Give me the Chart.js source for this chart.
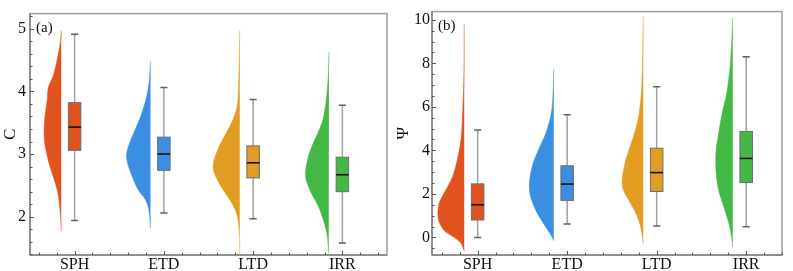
<!DOCTYPE html>
<html>
<head>
<meta charset="utf-8">
<script src="https://cdn.jsdelivr.net/npm/chart.js@4.4.0/dist/chart.umd.min.js"></script>
<style>
html, body { margin: 0; padding: 0; background: #fff; }
#wrap { position: relative; width: 793px; height: 271px; }
#wrap canvas { position: absolute; top: 0; }
</style>
</head>
<body>
<div id="wrap">
    <canvas id="chartC" width="393" height="271" style="left:0"></canvas>
    <canvas id="chartPsi" width="400" height="271" style="left:393px"></canvas>
</div>
<script>
const categories = ['SPH', 'ETD', 'LTD', 'IRR'];
const colors = ['#E0531F', '#3B8FE3', '#E29C22', '#44B845'];

// panel (a) - C
const cMin = [1.94, 2.06, 1.97, 1.58];
const cQ1 = [3.06, 2.74, 2.62, 2.40];
const cMedian = [3.43, 3.00, 2.86, 2.67];
const cQ3 = [3.82, 3.27, 3.13, 2.95];
const cMax = [4.91, 4.06, 3.87, 3.78];
const cTicks = [2, 3, 4, 5];

// violin outline: value levels and density at each level
const cViolinValues = [
    [4.97, 4.77, 4.51, 4.25, 4.06, 3.86, 3.64, 3.45, 3.25, 3.04, 2.84, 2.64, 2.43, 2.23, 1.97, 1.77],
    [4.47, 4.16, 3.95, 3.75, 3.55, 3.34, 3.14, 2.99, 2.84, 2.64, 2.43, 2.27, 2.12, 1.82],
    [4.97, 4.51, 4.01, 3.75, 3.55, 3.34, 3.14, 2.94, 2.79, 2.64, 2.43, 2.23, 2.03, 1.73, 1.42],
    [4.63, 4.25, 3.86, 3.55, 3.34, 3.14, 2.94, 2.73, 2.58, 2.38, 2.18, 1.97, 1.73, 1.42]
];
const cViolinDensity = [
    [0, 0.1, 0.4, 0.8, 1.3, 1.4, 1.6, 1.7, 1.7, 1.5, 1.2, 0.8, 0.4, 0.2, 0.05, 0],
    [0, 0.13, 0.33, 0.67, 1.1, 1.67, 2.17, 2.4, 2.27, 1.83, 1.23, 0.5, 0.17, 0],
    [0, 0.05, 0.13, 0.27, 0.67, 1.33, 2.0, 2.5, 2.67, 2.4, 1.67, 0.83, 0.27, 0.03, 0],
    [0, 0.07, 0.27, 0.6, 1.1, 1.67, 2.1, 2.33, 2.27, 1.77, 1.1, 0.6, 0.2, 0.03]
];

// panel (b) - Psi
const psiMin = [0.00, 0.61, 0.52, 0.49];
const psiQ1 = [0.80, 1.70, 2.11, 2.52];
const psiMedian = [1.50, 2.45, 2.98, 3.63];
const psiQ3 = [2.46, 3.29, 4.10, 4.87];
const psiMax = [4.94, 5.64, 6.92, 8.31];
const psiTicks = [0, 2, 4, 6, 8, 10];

const psiViolinValues = [
    [9.81, 7.51, 6.05, 4.59, 3.70, 2.82, 2.20, 1.62, 1.18, 0.74, 0.30, -0.01, -0.28, -0.63],
    [7.73, 6.63, 5.74, 4.86, 4.15, 3.39, 2.64, 2.07, 1.62, 1.05, 0.43, 0.16, -0.15],
    [10.16, 8.26, 6.80, 5.61, 4.86, 4.15, 3.39, 2.64, 2.20, 1.62, 1.05, 0.43, -0.28],
    [10.12, 9.01, 7.82, 6.63, 5.61, 4.72, 3.97, 3.08, 2.20, 1.32, 0.61, -0.01, -0.45]
];
const psiViolinDensity = [
    [0, 0.03, 0.13, 0.3, 0.63, 1.13, 1.8, 2.47, 2.63, 2.53, 1.97, 0.97, 0.3, 0],
    [0, 0.07, 0.23, 0.73, 1.4, 2.07, 2.4, 2.4, 2.13, 1.57, 0.73, 0.33, 0],
    [0, 0.07, 0.17, 0.43, 0.83, 1.33, 1.83, 2.1, 2.0, 1.33, 0.67, 0.23, 0],
    [0, 0.1, 0.27, 0.6, 1.1, 1.43, 1.67, 1.67, 1.43, 0.83, 0.37, 0.1, 0]
];

const SERIF = '"Liberation Serif", "DejaVu Serif", serif';
const VIOLIN_EDGE = -0.15;   // flat side of each half violin, in category units
const VIOLIN_SCALE = 0.112;  // density -> category units
const BOX_HALF = 0.07;
const CAP_HALF = 0.04;

function violinDatasets(values, density) {
    return categories.map((cat, i) => ({
        label: cat,
        data: values[i].map((v, k) => ({ x: i + VIOLIN_EDGE - density[i][k] * VIOLIN_SCALE, y: v })),
        showLine: true,
        fill: 'shape',
        backgroundColor: colors[i],
        borderColor: colors[i] + 'b0',
        borderWidth: 0.8,
        pointRadius: 0,
        tension: 0.3
    }));
}

// boxes, inward ticks, frame and panel letter
const raincloudPlugin = {
    id: 'raincloud',
    afterDatasetsDraw(chart, args, opts) {
        const ctx = chart.ctx;
        const x = chart.scales.x;
        const y = chart.scales.y;
        const b = opts.boxes;
        ctx.save();
        categories.forEach((cat, i) => {
            const cx = x.getPixelForValue(i);
            const hw = x.getPixelForValue(i + BOX_HALF) - cx;
            const cw = x.getPixelForValue(i + CAP_HALF) - cx;
            const pMin = y.getPixelForValue(b.min[i]);
            const pMax = y.getPixelForValue(b.max[i]);
            const pQ1 = y.getPixelForValue(b.q1[i]);
            const pQ3 = y.getPixelForValue(b.q3[i]);
            const pMed = y.getPixelForValue(b.median[i]);

            ctx.strokeStyle = '#a0a0a0';
            ctx.lineWidth = 1.5;
            ctx.beginPath();
            ctx.moveTo(cx, pMin);
            ctx.lineTo(cx, pMax);
            ctx.stroke();

            ctx.strokeStyle = '#606060';
            ctx.beginPath();
            ctx.moveTo(cx - cw, pMin);
            ctx.lineTo(cx + cw, pMin);
            ctx.moveTo(cx - cw, pMax);
            ctx.lineTo(cx + cw, pMax);
            ctx.stroke();

            ctx.fillStyle = colors[i];
            ctx.fillRect(cx - hw, pQ3, hw * 2, pQ1 - pQ3);
            ctx.strokeStyle = '#6e6e6e';
            ctx.lineWidth = 1;
            ctx.strokeRect(cx - hw, pQ3, hw * 2, pQ1 - pQ3);

            ctx.strokeStyle = '#111';
            ctx.lineWidth = 1.6;
            ctx.beginPath();
            ctx.moveTo(cx - hw, pMed);
            ctx.lineTo(cx + hw, pMed);
            ctx.stroke();
        });
        ctx.restore();
    },
    afterDraw(chart, args, opts) {
        const ctx = chart.ctx;
        const a = chart.chartArea;
        const x = chart.scales.x;
        const y = chart.scales.y;
        ctx.save();

        // frame
        ctx.strokeStyle = '#a3a3a3';
        ctx.lineWidth = 1.6;
        ctx.strokeRect(a.left, a.top, a.right - a.left, a.bottom - a.top);
        ctx.strokeStyle = '#6a6a6a';
        ctx.lineWidth = 1;
        ctx.beginPath();
        ctx.moveTo(a.left, a.top);
        ctx.lineTo(a.left, a.bottom);
        ctx.lineTo(a.right, a.bottom);
        ctx.stroke();

        // inward ticks
        ctx.strokeStyle = '#555';
        ctx.lineWidth = 1;
        ctx.beginPath();
        const ys = opts.yMinor;
        for (let v = Math.ceil(y.min / ys) * ys; v <= y.max + 1e-9; v += ys) {
            const p = Math.round(y.getPixelForValue(v)) + 0.5;
            const major = Math.abs(v / opts.yMajor - Math.round(v / opts.yMajor)) < 1e-6;
            ctx.moveTo(a.left, p);
            ctx.lineTo(a.left + (major ? 4 : 2.5), p);
        }
        const xs = 0.2;
        for (let v = Math.ceil(x.min / xs) * xs; v <= x.max + 1e-9; v += xs) {
            const p = Math.round(x.getPixelForValue(v)) + 0.5;
            const major = Math.abs(v - Math.round(v)) < 1e-6;
            ctx.moveTo(p, a.bottom);
            ctx.lineTo(p, a.bottom - (major ? 4 : 2.5));
        }
        ctx.stroke();

        // panel letter
        ctx.fillStyle = '#111';
        ctx.font = '15px ' + SERIF;
        ctx.textBaseline = 'middle';
        ctx.textAlign = 'left';
        ctx.fillText(opts.label, a.left + 6, a.top + 14);
        ctx.restore();
    }
};

function makeChart(id, cfg) {
    return new Chart(document.getElementById(id), {
        type: 'scatter',
        data: { datasets: violinDatasets(cfg.values, cfg.density) },
        plugins: [raincloudPlugin],
        options: {
            responsive: false,
            animation: false,
            devicePixelRatio: 1,
            layout: { padding: { top: 2, right: cfg.padRight, left: 0, bottom: 0 } },
            plugins: {
                legend: { display: false },
                tooltip: { enabled: false },
                raincloud: {
                    boxes: cfg.boxes,
                    label: cfg.label,
                    yMinor: cfg.yMinor,
                    yMajor: cfg.yMajor
                }
            },
            scales: {
                x: {
                    type: 'linear',
                    min: cfg.xMin,
                    max: cfg.xMax,
                    afterBuildTicks: s => { s.ticks = categories.map((c, i) => ({ value: i })); },
                    afterFit: s => { s.height = 16; },
                    grid: { display: false, drawTicks: false },
                    border: { display: false },
                    ticks: {
                        autoSkip: false,
                        maxRotation: 0,
                        padding: 0,
                        color: '#111',
                        font: { family: SERIF, size: 16 }
                    ,
                        callback: v => categories[v]
                    }
                },
                y: {
                    min: cfg.yMin,
                    max: cfg.yMax,
                    afterBuildTicks: s => { s.ticks = cfg.ticks.map(v => ({ value: v })); },
                    afterFit: s => { s.width = cfg.yWidth; },
                    grid: { display: false, drawTicks: false },
                    border: { display: false },
                    ticks: {
                        padding: cfg.tickPad,
                        color: '#111',
                        font: { family: SERIF, size: 16 }
                    },
                    title: {
                        display: true,
                        text: cfg.title,
                        color: '#111',
                        padding: 0,
                        font: { family: SERIF, size: 17 }
                    }
                }
            }
        }
    });
}

makeChart('chartC', {
    values: cViolinValues,
    density: cViolinDensity,
    boxes: { min: cMin, q1: cQ1, median: cMedian, q3: cQ3, max: cMax },
    ticks: cTicks,
    label: '(a)',
    title: 'C',
    xMin: -0.5, xMax: 3.5,
    yMin: 1.39, yMax: 5.24,
    yMinor: 0.2, yMajor: 1,
    yWidth: 30, tickPad: 4, padRight: 6
});

makeChart('chartPsi', {
    values: psiViolinValues,
    density: psiViolinDensity,
    boxes: { min: psiMin, q1: psiQ1, median: psiMedian, q3: psiQ3, max: psiMax },
    ticks: psiTicks,
    label: '(b)',
    title: 'Ψ',
    xMin: -0.51, xMax: 3.40,
    yMin: -0.81, yMax: 10.38,
    yMinor: 0.5, yMajor: 2,
    yWidth: 39, tickPad: 2, padRight: 11
});
</script>
</body>
</html>
